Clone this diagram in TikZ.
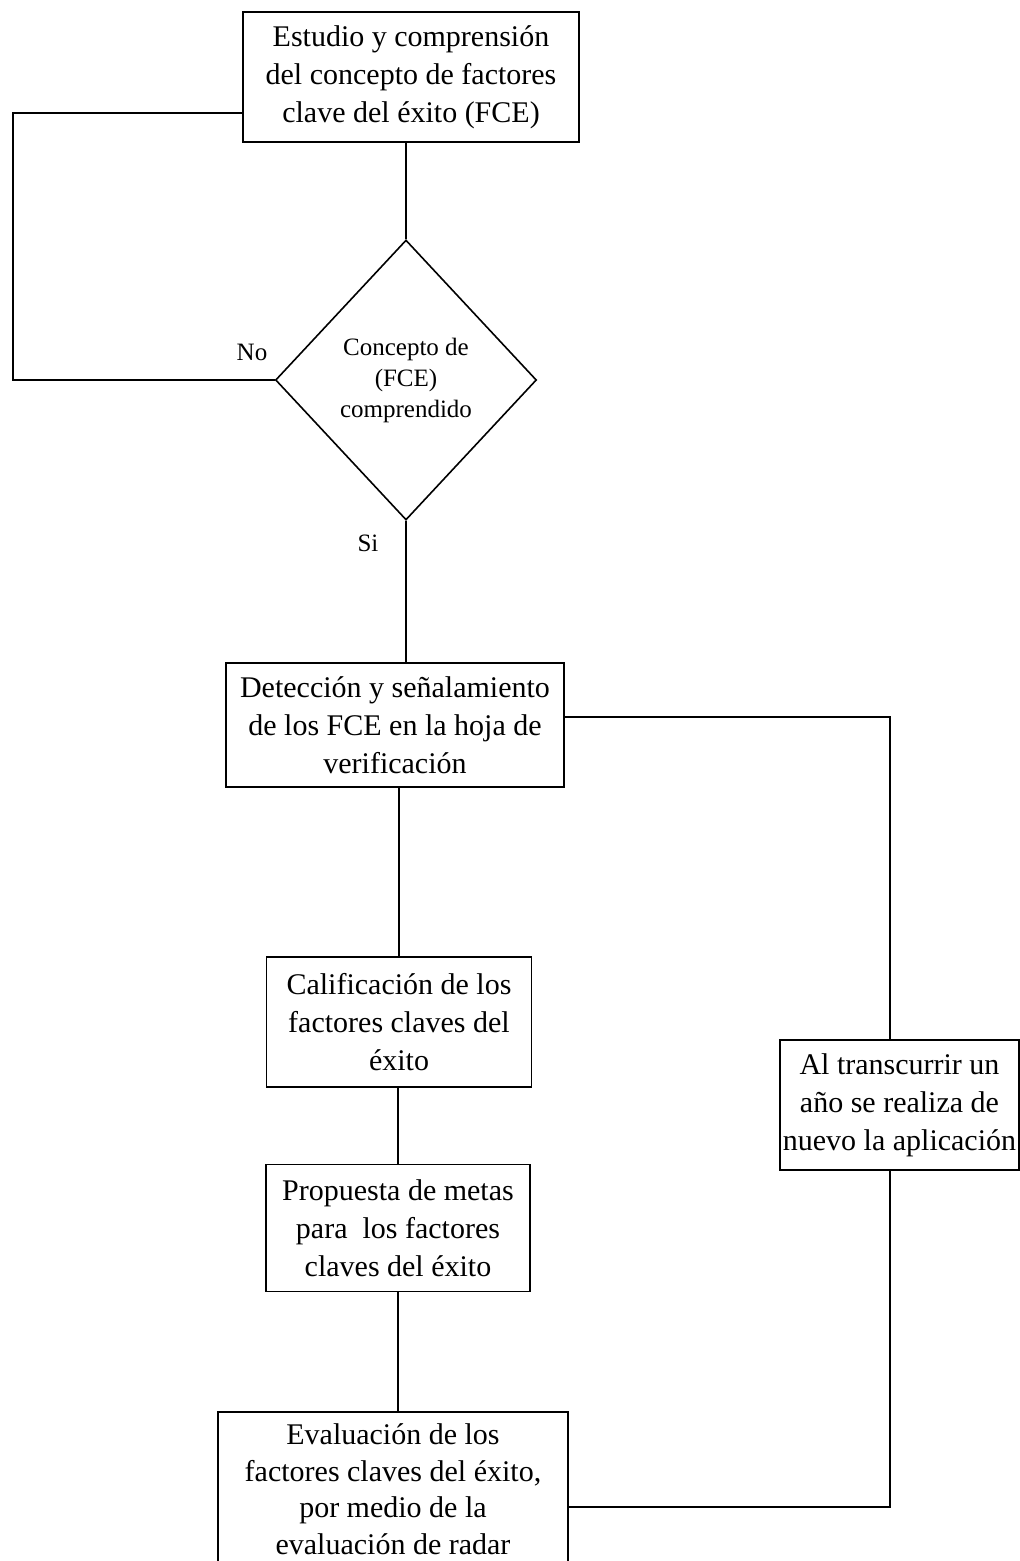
\documentclass[tikz,border=0pt]{standalone}
\usepackage{fontspec}
\setmainfont{Liberation Serif}
\usetikzlibrary{shapes.geometric,calc}
\begin{document}
\begin{tikzpicture}[x=1pt,y=-1pt,
  box/.style={draw, line width=1.8pt, align=center, inner sep=0pt,
    font=\fontsize{30}{38}\selectfont},
  decision/.style={draw, line width=1.6pt, shape=diamond, inner sep=0pt,
    align=center, font=\fontsize{25}{31}\selectfont},
  lbl/.style={inner sep=0pt, font=\fontsize{25}{30}\selectfont},
  conn/.style={draw, line width=1.8pt}]
\fill[white] (0,0) rectangle (1020,1561);
\useasboundingbox (0,0) rectangle (1020,1561);

% process steps
\node[box, minimum width=336, minimum height=130] (b1) at (411,77)
  {Estudio y comprensión\\del concepto de factores\\clave del éxito (FCE)};
\node[decision, minimum width=261, minimum height=280] (dia) at (406,380)
  {Concepto de\\(FCE)\\comprendido};
\node[box, minimum width=338, minimum height=124] (b2) at (395,725)
  {Detección y señalamiento\\de los FCE en la hoja de\\verificación};
\node[box, minimum width=265, minimum height=130] (b3) at (399,1022)
  {Calificación de los\\factores claves del\\éxito};
\node[box, minimum width=264, minimum height=127] (b4) at (398,1228)
  {Propuesta de metas\\para\ \ los factores\\claves del éxito};
\node[box, minimum width=350, minimum height=154,
  font=\fontsize{30}{36.5}\selectfont] (b5) at (393,1489)
  {Evaluación de los\\factores claves del éxito,\\por medio de la\\evaluación de radar};
\node[box, minimum width=239, minimum height=130] (b6) at (899.5,1105)
  {Al transcurrir un\\año se realiza de\\nuevo la aplicación};

% branch labels
\node[lbl] (no) at (252,352) {No};
\node[lbl] (si) at (368,543) {Si};

% turning points of the loops
\coordinate (lx) at (13,113);
\coordinate (rx) at (890,717);
\coordinate (ry) at (890,1507);

% connectors
\draw[conn] (b1.south -| dia.north) -- (dia.north);
\draw[conn] (lx -| b1.west) -- (lx) |- (dia.west);
\draw[conn] (dia.south) -- (dia.south |- b2.north);
\draw[conn] (b3.north |- b2.south) -- (b3.north);
\draw[conn] (b4.north |- b3.south) -- (b4.north);
\draw[conn] (b4.south) -- (b4.south |- b5.north);
\draw[conn] (rx -| b2.east) -- (rx) -- (rx |- b6.north);
\draw[conn] (ry -| b5.east) -- (ry) -- (ry |- b6.south);
\end{tikzpicture}
\end{document}
